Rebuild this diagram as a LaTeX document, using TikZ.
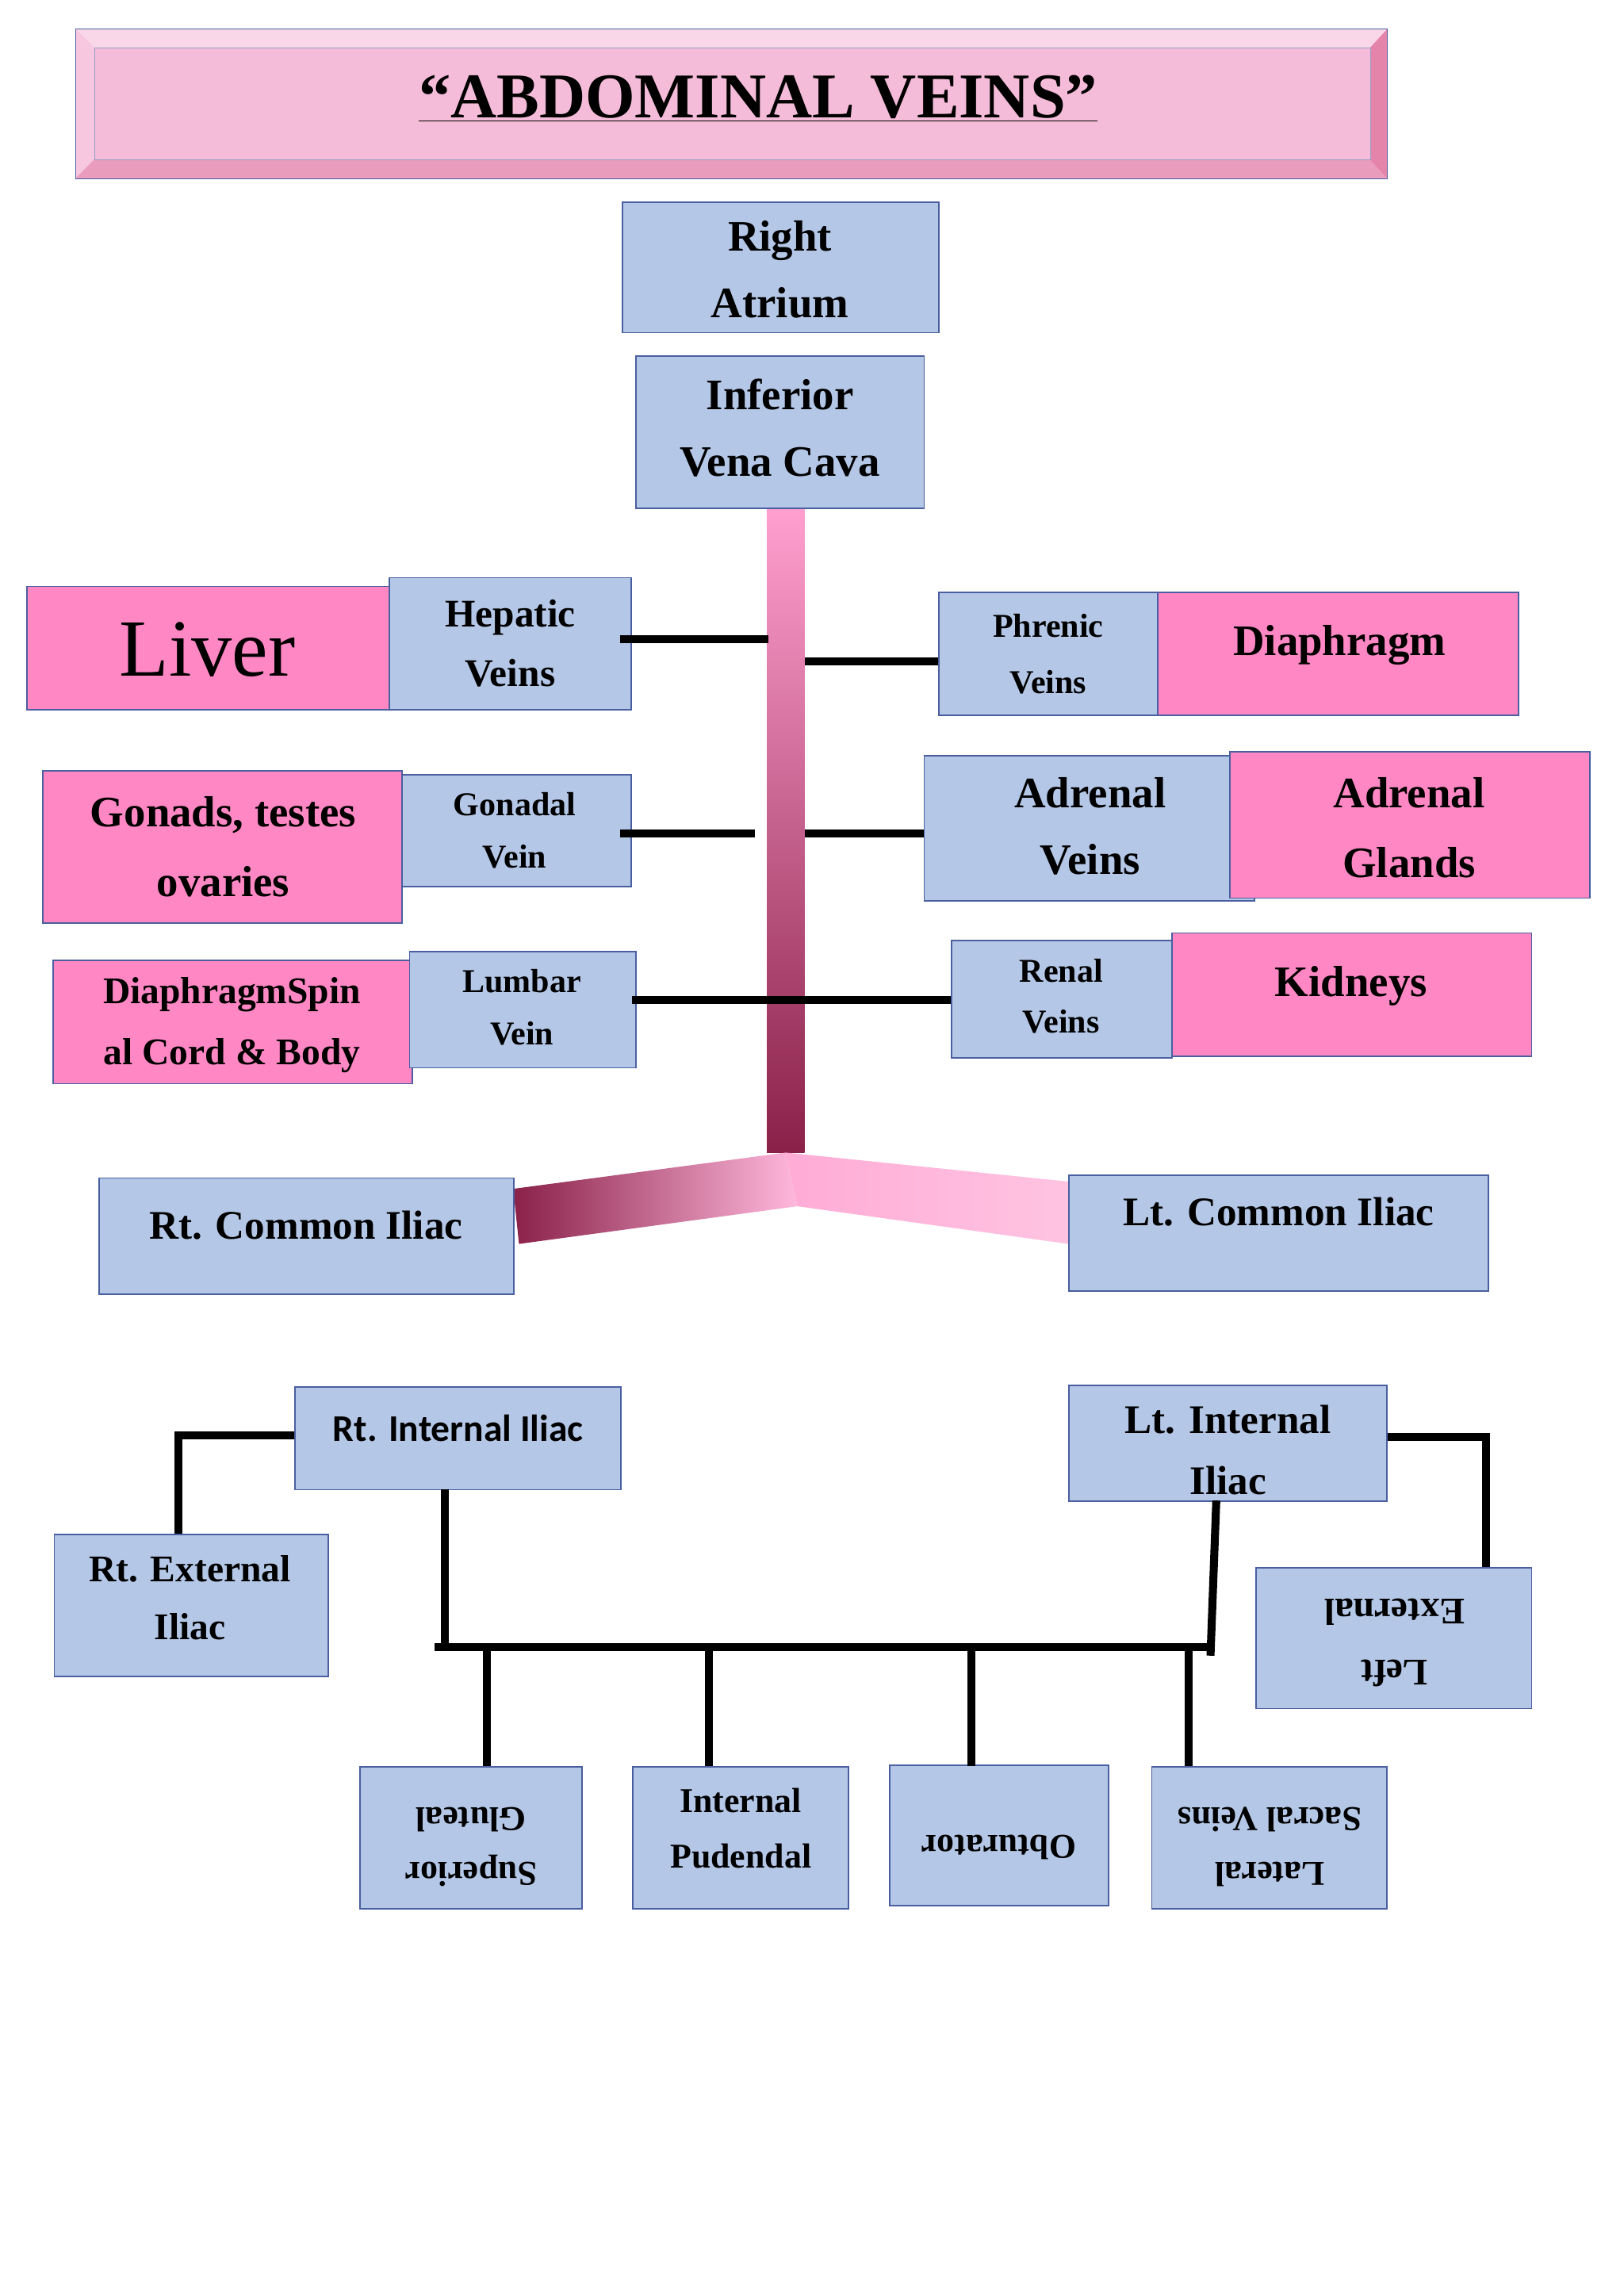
\documentclass[tikz,border=0pt]{standalone}
\usepackage{fontspec}
\setmainfont{Liberation Serif}
\newfontfamily\carlitofont{Carlito}
\definecolor{bx}{HTML}{B4C7E7}
\definecolor{bd}{HTML}{4A5FA0}
\definecolor{pk}{HTML}{FF88C4}
\definecolor{tp}{HTML}{F5BCD9}
\begin{document}
\begin{tikzpicture}[x=1pt,y=-1pt,
 bb/.style={draw=bd,fill=bx,line width=1pt,align=center,font=\bfseries\fontsize{26}{44}\selectfont},
 pb/.style={draw=bd,fill=pk,line width=1pt,align=center,font=\bfseries\fontsize{30}{48}\selectfont},
 ln/.style={line width=5.5pt}]
\useasboundingbox[fill=white] (0,0) rectangle (1120,1583);
% title
\fill[tp!70!purple!80] (52,20) rectangle (957,123);
\fill[tp!60!white] (52,20)--(957,20)--(945,33)--(65,33)--cycle;
\fill[tp!70!purple] (957,20)--(957,123)--(945,110)--(945,33)--cycle;
\fill[tp!85!white] (52,20)--(65,33)--(65,110)--(52,123)--cycle;
\draw[bd] (52,20) rectangle (957,123);
\node[draw=bd!60,fill=tp,minimum width=880,minimum height=77,anchor=north west] (title) at (65,33) {};
\node[font=\bfseries\fontsize{44}{50}\selectfont] at (523,68) {\underline{“ABDOMINAL VEINS”}};
% tube
\shade[top color=pk!80!white,bottom color=pk!40!black!60!purple] (529,350) rectangle (555,795);
\shade[left color=pk!40!black!60!purple,right color=pk!60!white] (354,820)--(542,795)--(550,832)--(358,858)--cycle;
\shade[left color=pk!70!white,right color=pk!50!white] (542,795)--(737,815)--(737,858)--(550,832)--cycle;
% boxes
\newcommand\mybx[6]{\node[#1,minimum width=#4-#2,minimum height=#5-#3,anchor=north west,inner sep=0] (#6) at (#2,#3) {};}
\mybx{bb}{429}{139}{647}{229}{ra}\node[font=\bfseries\fontsize{30}{46}\selectfont,align=center] at (538,186){Right\\Atrium};
\mybx{bb}{438}{245}{637}{350}{ivc}\node[font=\bfseries\fontsize{30}{46}\selectfont,align=center] at (538,295){Inferior\\Vena Cava};
\mybx{pb}{18}{404}{268}{489}{liv}\node[font=\fontsize{56}{60}\selectfont] at (143,448){Liver};
\mybx{bb}{268}{398}{435}{489}{hep}\node[font=\bfseries\fontsize{27}{41}\selectfont,align=center] at (352,444){Hepatic\\Veins};
\mybx{bb}{647}{408}{798}{493}{phr}\node[font=\bfseries\fontsize{23}{39}\selectfont,align=center] at (723,451){Phrenic\\Veins};
\mybx{pb}{798}{408}{1047}{493}{dia}\node[font=\bfseries\fontsize{30}{40}\selectfont] at (924,445){Diaphragm};
\mybx{pb}{29}{531}{277}{636}{gon}\node[font=\bfseries\fontsize{30}{48}\selectfont,align=center] at (154,584){Gonads, testes\\ovaries};
\mybx{bb}{277}{534}{435}{611}{gv}\node[font=\bfseries\fontsize{23}{36}\selectfont,align=center] at (355,573){Gonadal\\Vein};
\mybx{bb}{637}{521}{865}{621}{adv}\node[font=\bfseries\fontsize{30}{46}\selectfont,align=center] at (752,570){Adrenal\\Veins};
\mybx{pb}{848}{518}{1096}{619}{adg}\node[font=\bfseries\fontsize{30}{48}\selectfont,align=center] at (972,571){Adrenal\\Glands};
\mybx{pb}{36}{662}{284}{747}{dsc}\node[font=\bfseries\fontsize{26}{42}\selectfont,align=center] at (160,707){DiaphragmSpin\\al Cord \& Body};
\mybx{bb}{282}{656}{438}{736}{lum}\node[font=\bfseries\fontsize{23}{36}\selectfont,align=center] at (360,695){Lumbar\\Vein};
\mybx{bb}{656}{648}{808}{729}{ren}\node[font=\bfseries\fontsize{23}{35}\selectfont,align=center] at (732,687){Renal\\Veins};
\mybx{pb}{808}{643}{1056}{728}{kid}\node[font=\bfseries\fontsize{30}{40}\selectfont] at (932,680){Kidneys};
\mybx{bb}{68}{812}{354}{892}{rci}\node[font=\bfseries\fontsize{28}{40}\selectfont] at (211,845){Rt. Common Iliac};
\mybx{bb}{737}{810}{1026}{890}{lci}\node[font=\bfseries\fontsize{28}{40}\selectfont] at (882,836){Lt. Common Iliac};
\mybx{bb}{203}{956}{428}{1027}{rii}\node[font=\carlitofont\bfseries\fontsize{26}{40}\selectfont] at (316,985){Rt. Internal Iliac};
\mybx{bb}{37}{1058}{226}{1156}{rei}\node[font=\bfseries\fontsize{26}{40}\selectfont,align=center] at (131,1102){Rt. External\\Iliac};
\mybx{bb}{737}{955}{956}{1035}{lii}\node[font=\bfseries\fontsize{28}{42}\selectfont,align=center] at (847,1000){Lt. Internal\\Iliac};
\mybx{bb}{866}{1081}{1056}{1178}{lei}\node[font=\bfseries\fontsize{26}{42}\selectfont,align=center,rotate=180] at (962,1133){Left\\External};
\mybx{bb}{248}{1218}{401}{1316}{sg}\node[font=\bfseries\fontsize{24}{38}\selectfont,align=center,rotate=180] at (325,1274){Superior\\Gluteal};
\mybx{bb}{436}{1218}{585}{1316}{ip}\node[font=\bfseries\fontsize{24}{38}\selectfont,align=center] at (511,1261){Internal\\Pudendal};
\mybx{bb}{613}{1217}{764}{1314}{ob}\node[font=\bfseries\fontsize{24}{38}\selectfont,rotate=180] at (689,1274){Obturator};
\mybx{bb}{794}{1218}{956}{1316}{ls}\node[font=\bfseries\fontsize{24}{38}\selectfont,align=center,rotate=180] at (876,1274){Lateral\\Sacral Veins};
% connectors
\draw[ln] (428,441)--(530,441);
\draw[ln] (555,456)--(phr.west|-0,456);
\draw[ln] (428,575)--(521,575);
\draw[ln] (555,575)--(adv.west|-0,575);
\draw[ln] (436,690)--(ren.west|-0,690);
\draw[ln] (rii.west|-0,990)--(123,990)--(123,1058);
\draw[ln] (lii.east|-0,991)--(1025,991)--(1025,1081);
\draw[ln] (307,1027)--(307,1136);
\draw[ln] (300,1136)--(835,1136);
\draw[ln] (839,1035)--(835,1142);
\foreach \x in {336,489,670,820} \draw[ln] (\x,1136)--(\x,1218);
\end{tikzpicture}
\end{document}
